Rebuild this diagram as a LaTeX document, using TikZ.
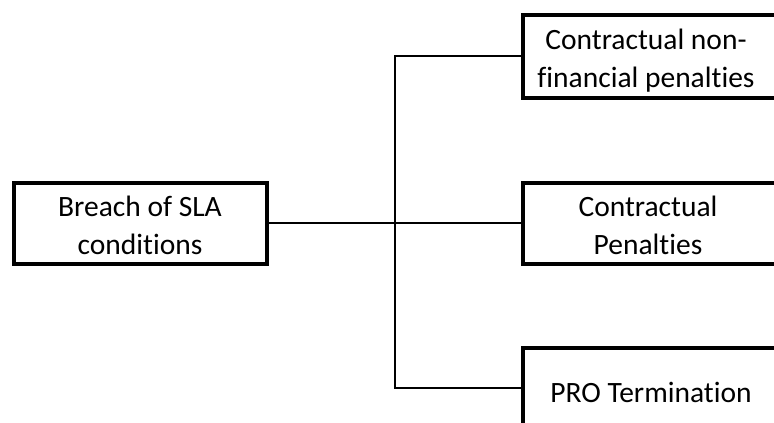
\documentclass[tikz,border=0pt]{standalone}
\usepackage{fontspec}
\setmainfont{Carlito}[Ligatures={NoCommon,NoContextual}]
\begin{document}
\begin{tikzpicture}[x=1pt,y=-1pt,
  box/.style={draw=black, line width=4pt, line join=miter, rectangle,
    inner sep=0pt, minimum width=#1},
  box/.default=253.5pt,
  lbl/.style={align=center, inner sep=0pt,
    font=\fontsize{29.5}{38}\selectfont},
  link/.style={draw=black, line width=2pt}]
  \useasboundingbox (0,0) rectangle (774,423);
  \clip (0,0) rectangle (774,423);

  % source box on the left
  \node[box, minimum height=81pt] (src) at (140.25,223) {};
  \node[lbl] (srctext) at (140,225) {Breach of SLA\\conditions};

  % the three outcome boxes run past the right edge
  \node[box=280pt, minimum height=82.5pt] (t1) at (663,56.25) {};
  \node[lbl] (t1text) at (646,61) {Contractual non-\\financial penalties};

  \node[box=280pt, minimum height=81pt] (t2) at (663,223) {};
  \node[lbl] (t2text) at (648,225) {Contractual\\Penalties};

  \node[box=280pt, minimum height=81pt] (t3) at (663,388) {};
  \node[lbl] (t3text) at (651,392) {PRO Termination};

  % branching connector
  \coordinate (j) at (395,223);
  \draw[link] (src.east) -- (t2.west);
  \draw[link] (t1.west) -| (j) |- (t3.west);
\end{tikzpicture}
\end{document}
